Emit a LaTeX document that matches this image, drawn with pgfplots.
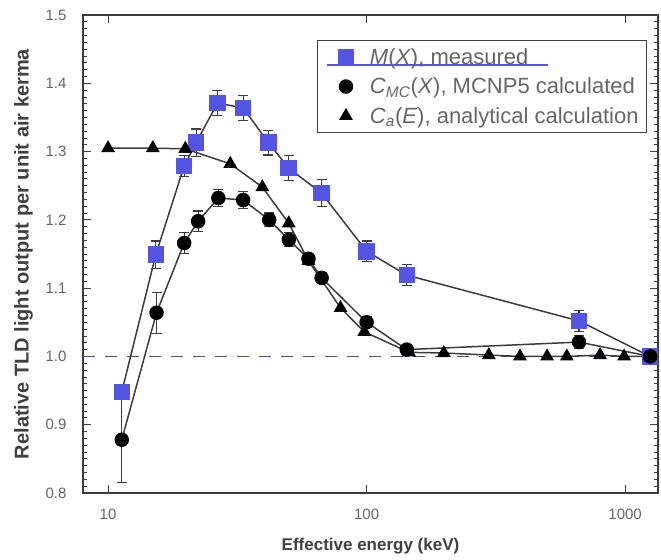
\documentclass[border=0pt]{standalone}
\usepackage{pgfplots}
\pgfplotsset{compat=1.18}
\usepackage{fontspec}
\setmainfont{Liberation Sans}
\definecolor{sqblue}{RGB}{85,85,228}
\definecolor{dashc}{RGB}{80,80,140}
\definecolor{linec}{RGB}{60,60,60}
\begin{document}
\begin{tikzpicture}[x=1pt,y=1pt]
\begin{axis}[
  name=ax,
  scale only axis,
  width=575pt, height=478pt,
  xmode=log, log basis x=10,
  xmin=8, xmax=1340,
  ymin=0.8, ymax=1.5,
  xtick={10,100,1000},
  xticklabels={10,100,1000},
  ytick={0.8,0.9,...,1.5},
  minor y tick num=9,
  yticklabel style={xshift=-13pt, /pgf/number format/.cd,fixed,fixed zerofill,precision=1},
  /pgf/number format/assume math mode=true,
  tick align=inside,
  major tick length=8pt, minor tick length=4pt,
  tick style={linec, line width=0.8pt},
  axis line style={linec, line width=1.2pt},
  ticklabel style={font=\fontsize{15}{17}\selectfont, text=black!60},
  xticklabel style={yshift=-12pt},
  xlabel={\textbf{Effective energy (keV)}},
  ylabel={\textbf{Relative TLD light output per unit air kerma}},
  xlabel style={font=\fontsize{17}{19}\selectfont, text=black!75, yshift=-12pt},
  ylabel style={font=\fontsize{20}{22}\selectfont, text=black!75, yshift=6pt},
  legend style={at={(0.981,0.948)}, anchor=north east, draw=black!75, line width=1pt,
    font=\fontsize{22}{24}\selectfont, text=black!60, row sep=8pt, inner xsep=6pt, inner ysep=6pt},
  legend cell align=left,
  legend image code/.code={\path[draw=none,fill=none] (0pt,0pt) -- (44pt,0pt); \draw[#1, draw=none] plot coordinates {(22pt,0pt)};},
  error bars/error bar style={linec, line width=1.1pt},
  error bars/error mark options={rotate=90, mark size=5pt, linec, line width=1.1pt},
]
\addplot[dashc, line width=1.4pt, dash pattern=on 12pt off 10pt, forget plot] coordinates {(8,1.0)(1340,1.0)};

\addplot[linec, line width=1.5pt, mark=square*, mark size=7.5pt,
  mark options={draw=sqblue, fill=sqblue, solid},
  error bars/.cd, y dir=both, y explicit]
  coordinates {
  (11.3,0.948) +- (0,0.010)
  (15.3,1.149) +- (0,0.020)
  (19.7,1.279) +- (0,0.015)
  (21.9,1.313) +- (0,0.020)
  (26.5,1.371) +- (0,0.018)
  (33.3,1.364) +- (0,0.018)
  (41.7,1.313) +- (0,0.018)
  (49.9,1.276) +- (0,0.018)
  (67.0,1.239) +- (0,0.020)
  (100,1.154) +- (0,0.015)
  (143,1.119) +- (0,0.015)
  (663,1.052) +- (0,0.015)
  (1250,1.000) +- (0,0.005)
  };
\addlegendentry{\textit{M}(\textit{X}), measured}

\addplot[linec, line width=1.5pt, mark=*, mark size=6.5pt,
  mark options={draw=black, fill=black, solid},
  error bars/.cd, y dir=both, y explicit]
  coordinates {
  (11.3,0.878) +- (0,0.062)
  (15.4,1.064) +- (0,0.030)
  (19.7,1.166) +- (0,0.015)
  (22.3,1.198) +- (0,0.015)
  (26.7,1.232) +- (0,0.012)
  (33.3,1.229) +- (0,0.012)
  (42.0,1.200) +- (0,0.010)
  (50.0,1.171) +- (0,0.010)
  (59.6,1.143) +- (0,0.008)
  (67.0,1.115) +- (0,0.008)
  (100,1.050) +- (0,0.008)
  (143,1.010) +- (0,0.006)
  (663,1.021) +- (0,0.010)
  (1250,1.000) +- (0,0.004)
  };
\addlegendentry{\textit{C}\textsubscript{\textit{MC}}(\textit{X}), MCNP5 calculated}

\addplot[linec, line width=1.5pt, mark=triangle*, mark size=6.5pt,
  mark options={draw=black, fill=black, solid}]
  coordinates {
  (10.0,1.305)
  (14.9,1.305)
  (19.9,1.304)
  (29.7,1.282)
  (39.5,1.248)
  (50.0,1.195)
  (59.6,1.140)
  (79.3,1.071)
  (98.0,1.036)
  (146,1.006)
  (199,1.005)
  (297,1.002)
  (392,1.000)
  (499,1.000)
  (595,1.000)
  (800,1.002)
  (991,1.000)
  (1250,1.000)
  };
\addlegendentry{\textit{C}\textsubscript{\textit{a}}(\textit{E}), analytical calculation}
\end{axis}
\draw[sqblue, line width=1.2pt] ([shift={(244pt,-50pt)}]ax.north west) -- ++(221pt,0);
\pgfresetboundingbox
\path[use as bounding box] ([shift={(-83pt,-67pt)}]ax.south west) rectangle ([shift={(3pt,15pt)}]ax.north east);
\end{tikzpicture}
\end{document}
